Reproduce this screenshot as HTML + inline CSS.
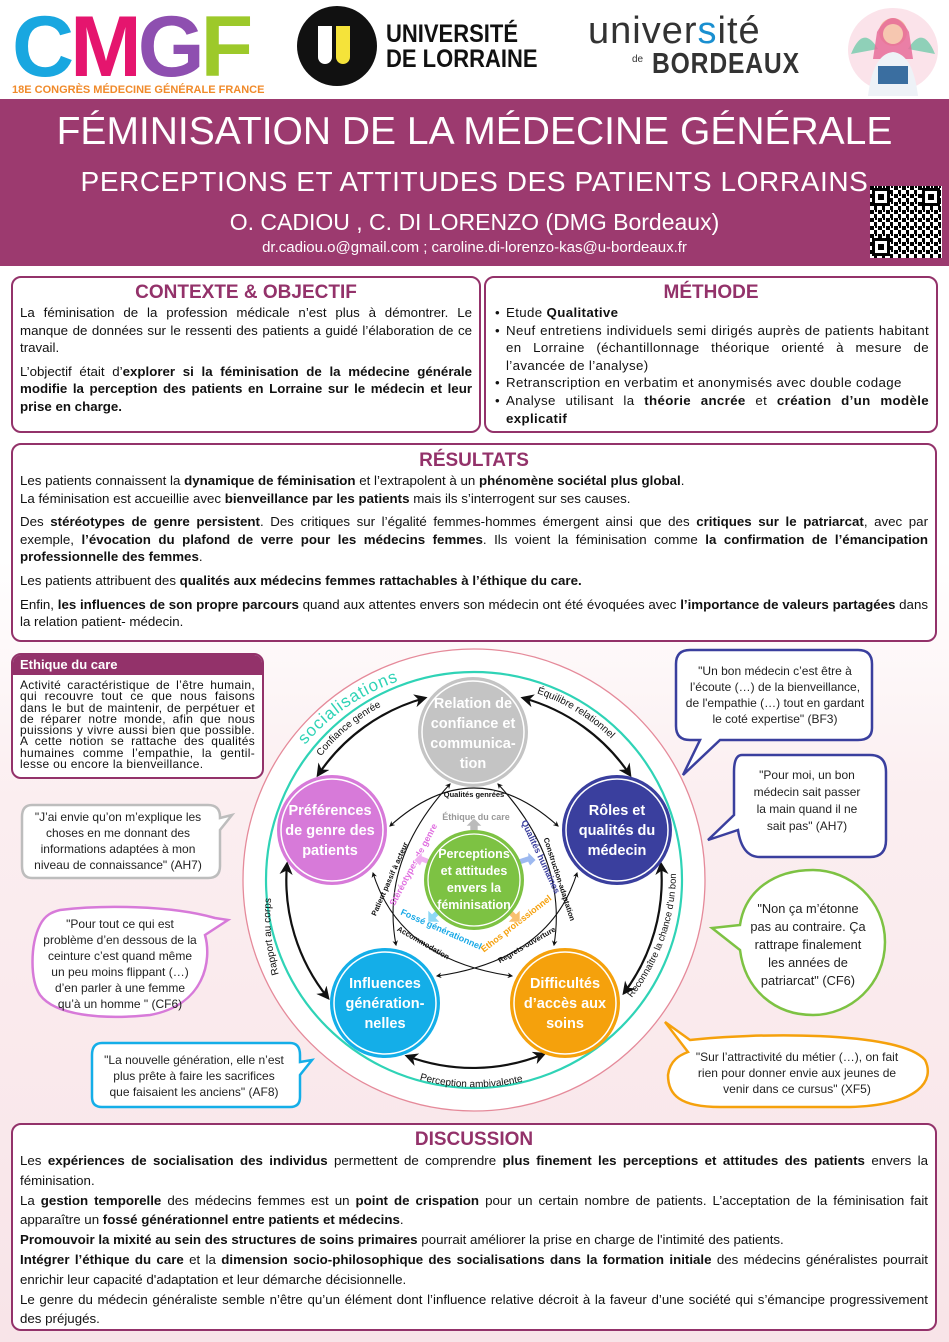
<!DOCTYPE html>
<html><head><meta charset="utf-8"><style>
*{margin:0;padding:0;box-sizing:border-box}
body{width:949px;height:1342px;position:relative;overflow:hidden;font-family:"Liberation Sans",sans-serif;color:#111;background:linear-gradient(#ffffff 0px,#fff 560px,#fbeef0 800px,#f8e4e8 1342px)}
.abs{position:absolute}
.box{position:absolute;background:#fff;border:2.5px solid #93326a;border-radius:10px}
.h{color:#93326a;font-weight:bold;font-size:19px;text-align:center;line-height:22px}
.t{font-size:13.3px;line-height:17.6px;text-align:justify}
.t p{margin-bottom:6px}
ul{list-style:none}
li{padding-left:13px;position:relative}
li:before{content:"•";position:absolute;left:2px}
</style></head><body>
<div class="abs" style="left:12px;top:4px;font-size:86px;font-weight:bold;letter-spacing:-4px;line-height:86px"><span style="color:#19a7e0">C</span><span style="color:#e5156e">M</span><span style="color:#8e4fb0">G</span><span style="color:#9dc92a">F</span></div>
<div class="abs" style="left:12px;top:84px;font-size:11px;font-weight:bold;color:#f08a2a">18E CONGRÈS MÉDECINE GÉNÉRALE FRANCE</div>
<div class="abs" style="left:297px;top:6px;width:80px;height:80px;border-radius:50%;background:#111"></div>
<div class="abs" style="left:318px;top:26px;width:14px;height:38px;border-radius:0 0 8px 8px;background:#fff"></div>
<div class="abs" style="left:336px;top:26px;width:14px;height:38px;border-radius:0 0 8px 8px;background:#f5e33a"></div>
<div class="abs" style="left:386px;top:22px;font-size:25px;font-weight:bold;line-height:25px;transform:scaleX(.88);transform-origin:left">UNIVERSITÉ<br>DE LORRAINE</div>
<div class="abs" style="left:588px;top:10px;font-size:38px;color:#333;letter-spacing:1px">univer<span style="color:#1a8fd0">s</span>ité</div>
<div class="abs" style="left:632px;top:54px;font-size:10px;color:#333">de</div>
<div class="abs" style="left:652px;top:48px;font-size:29px;font-weight:bold;color:#333;letter-spacing:1px;transform:scaleX(.85);transform-origin:left">BORDEAUX</div>
<svg class="abs" style="left:843px;top:4px" width="100" height="92"><ellipse cx="50" cy="46" rx="45" ry="42" fill="#fbe3ea"/><path d="M8 50 Q20 20 35 45 Z" fill="#8fd0b8"/><path d="M92 50 Q80 20 65 45 Z" fill="#8fd0b8"/><circle cx="50" cy="28" r="14" fill="#f3b89c"/><path d="M34 28 Q50 0 66 28 L70 55 L30 55 Z" fill="#e66d9a" opacity=".85"/><circle cx="50" cy="30" r="10" fill="#f6c7b0"/><path d="M25 92 Q30 50 50 48 Q70 50 75 92 Z" fill="#eef2f7"/><rect x="35" y="62" width="30" height="18" fill="#3a6ea0"/></svg>
<div class="abs" style="left:0;top:99px;width:949px;height:167px;background:#9c3a6f"></div>
<div class="abs" style="left:0;top:107px;width:949px;text-align:center;color:#fff;font-size:39px;line-height:50px">FÉMINISATION DE LA MÉDECINE GÉNÉRALE</div>
<div class="abs" style="left:0;top:164px;width:949px;text-align:center;color:#fff;font-size:28px;line-height:36px;letter-spacing:.6px">PERCEPTIONS ET ATTITUDES DES PATIENTS LORRAINS</div>
<div class="abs" style="left:0;top:207px;width:949px;text-align:center;color:#fff;font-size:23px;line-height:30px">O. CADIOU , C. DI LORENZO (DMG Bordeaux)</div>
<div class="abs" style="left:0;top:238px;width:949px;text-align:center;color:#fff;font-size:15px;line-height:20px">dr.cadiou.o@gmail.com ; caroline.di-lorenzo-kas@u-bordeaux.fr</div>
<svg class="abs" style="left:870px;top:186px" width="72" height="72"><defs><pattern id="q" width="8" height="8" patternUnits="userSpaceOnUse"><rect width="8" height="8" fill="#fff"/><rect x="0" y="0" width="4" height="4" fill="#000"/><rect x="4" y="4" width="3" height="4" fill="#000"/><rect x="5" y="0" width="2" height="2" fill="#000"/></pattern></defs><rect width="72" height="72" fill="url(#q)"/><g fill="#000"><rect x="2" y="2" width="18" height="18"/><rect x="52" y="2" width="18" height="18"/><rect x="2" y="52" width="18" height="18"/></g><g fill="#fff"><rect x="5" y="5" width="12" height="12"/><rect x="55" y="5" width="12" height="12"/><rect x="5" y="55" width="12" height="12"/></g><g fill="#000"><rect x="8" y="8" width="6" height="6"/><rect x="58" y="8" width="6" height="6"/><rect x="8" y="58" width="6" height="6"/></g></svg>

<div class="box" style="left:11px;top:276px;width:470px;height:157px;padding:4px 7px">
<div class="h">CONTEXTE &amp; OBJECTIF</div>
<div class="t"><p>La féminisation de la profession médicale n’est plus à démontrer. Le manque de données sur le ressenti des patients a guidé l’élaboration de ce travail.</p><p>L’objectif était d’<b>explorer si la féminisation de la médecine générale modifie la perception des patients en Lorraine sur le médecin et leur prise en charge.</b></p></div></div>
<div class="box" style="left:484px;top:276px;width:454px;height:157px;padding:4px 7px">
<div class="h">MÉTHODE</div>
<ul class="t" style="letter-spacing:.35px"><li>Etude <b>Qualitative</b></li><li>Neuf entretiens individuels semi dirigés auprès de patients habitant en Lorraine (échantillonnage théorique orienté à mesure de l’avancée de l’analyse)</li><li>Retranscription en verbatim et anonymisés avec double codage</li><li>Analyse utilisant la <b>théorie ancrée</b> et <b>création d’un modèle explicatif</b></li></ul></div>
<div class="box" style="left:11px;top:443px;width:926px;height:199px;padding:5px 7px">
<div class="h">RÉSULTATS</div>
<div class="t"><p>Les patients connaissent la <b>dynamique de féminisation</b> et l’extrapolent à un <b>phénomène sociétal plus global</b>.<br>La féminisation est accueillie avec <b>bienveillance par les patients</b> mais ils s’interrogent sur ses causes.</p>
<p>Des <b>stéréotypes de genre persistent</b>. Des critiques sur l’égalité femmes-hommes émergent ainsi que des <b>critiques sur le patriarcat</b>, avec par exemple, <b>l’évocation du plafond de verre pour les médecins femmes</b>. Ils voient la féminisation comme <b>la confirmation de l’émancipation professionnelle des femmes</b>.</p>
<p>Les patients attribuent des <b>qualités aux médecins femmes rattachables à l’éthique du care.</b></p>
<p>Enfin, <b>les influences de son propre parcours</b> quand aux attentes envers son médecin ont été évoquées avec <b>l’importance de valeurs partagées</b> dans la relation patient- médecin.</p></div></div>
<div class="box" style="left:11px;top:653px;width:253px;height:126px;overflow:hidden">
<div style="background:#93326a;color:#fff;font-weight:bold;font-size:13px;padding:2px 7px;height:20px">Ethique du care</div>
<div style="font-size:12px;line-height:11.3px;letter-spacing:.3px;text-align:justify;padding:5px 7px 0 7px">Activité caractéristique de l’être humain, qui recouvre tout ce que nous faisons dans le but de maintenir, de perpétuer et de réparer notre monde, afin que nous puissions y vivre aussi bien que possible. A cette notion se rattache des qualités humaines comme l’empathie, la gentil-lesse ou encore la bienveillance.</div></div>

<svg class="abs" style="left:0;top:0" width="949" height="1342" font-family="Liberation Sans, sans-serif">
<defs><marker id="ar" viewBox="0 0 10 10" refX="8" refY="5" markerWidth="5" markerHeight="5" orient="auto-start-reverse"><path d="M0 0 L10 5 L0 10 L3 5Z" fill="#111"/></marker>
<marker id="as" viewBox="0 0 10 10" refX="8" refY="5" markerWidth="6" markerHeight="6" orient="auto-start-reverse"><path d="M0 0 L10 5 L0 10 L3 5Z" fill="#111"/></marker>
<path id="p1" d="M311 770 A196 196 0 0 1 422 690"/>
<path id="p2" d="M526 690 A196 196 0 0 1 637 770"/>
<path id="p3" d="M290 1003 A198 198 0 0 1 277 866"/>
<path id="p4b" d="M630 1000 A202 202 0 0 0 676 870"/>
<path id="p5" d="M397 1072 A205 205 0 0 0 552 1072"/>
<path id="p6" d="M305 745 A213 213 0 0 1 420 675"/>
</defs>
<circle cx="474" cy="880" r="231" fill="#fff" stroke="#e58a9a" stroke-width="1.3"/>
<circle cx="474" cy="880" r="208" fill="none" stroke="#2fd3b6" stroke-width="2.2"/>
<text font-size="17" fill="#2fd3b6" letter-spacing="1"><textPath href="#p6">socialisations</textPath></text>
<g fill="none" stroke="#111" stroke-width="2.2">
<path d="M318 775 A188 188 0 0 1 425 698" marker-start="url(#as)" marker-end="url(#as)"/>
<path d="M523 698 A188 188 0 0 1 630 775" marker-start="url(#as)" marker-end="url(#as)"/>
<path d="M661 864 A188 188 0 0 1 624 993" marker-start="url(#as)" marker-end="url(#as)"/>
<path d="M544 1054 A188 188 0 0 1 407 1056" marker-start="url(#as)" marker-end="url(#as)"/>
<path d="M328 998 A188 188 0 0 1 287 864" marker-start="url(#as)" marker-end="url(#as)"/>
</g>
<g font-size="10" fill="#111">
<text><textPath href="#p1" startOffset="12%">Confiance genrée</textPath></text>
<text><textPath href="#p2" startOffset="8%">Équilibre relationnel</textPath></text>
<text><textPath href="#p3" startOffset="22%">Rapport au corps</textPath></text>
<text font-size="9.5"><textPath href="#p4b" startOffset="2%">Reconnaître la chance d’un bon suivi</textPath></text>
<text><textPath href="#p5" startOffset="15%">Perception ambivalente</textPath></text>
</g>
<g fill="none" stroke="#111" stroke-width="1.1">
<path d="M390 826 Q474 750 558 826" marker-start="url(#ar)" marker-end="url(#ar)"/>
<path d="M450 784 Q380 860 396 945" marker-start="url(#ar)" marker-end="url(#ar)"/>
<path d="M498 784 Q568 860 554 945" marker-start="url(#ar)" marker-end="url(#ar)"/>
<path d="M373 873 Q400 960 512 976" marker-start="url(#ar)" marker-end="url(#ar)"/>
<path d="M577 873 Q550 960 437 976" marker-start="url(#ar)" marker-end="url(#ar)"/>
</g>
<g font-size="7.5" font-weight="bold" fill="#111">
<text x="474" y="797" text-anchor="middle">Qualités genrées</text>
<text transform="translate(392 880) rotate(-66)" text-anchor="middle">Patient passif à acteur</text>
<text transform="translate(557 880) rotate(72)" text-anchor="middle">Construction-adaptation</text>
<text transform="translate(422 945) rotate(30)" text-anchor="middle">Accommodation</text>
<text transform="translate(528 947) rotate(-30)" text-anchor="middle">Regrets-ouverture</text>
</g>
<g font-size="9" font-weight="bold">
<text x="476" y="820" text-anchor="middle" fill="#999">Éthique du care</text>
<text transform="translate(416 866) rotate(-62)" text-anchor="middle" fill="#e06fe0">Stéréotypes de genre</text>
<text transform="translate(538 858) rotate(65)" text-anchor="middle" fill="#3b3f9e">Qualités humaines</text>
<text transform="translate(440 932) rotate(24)" text-anchor="middle" fill="#1aa9e6">Fossé générationnel</text>
<text transform="translate(518 926) rotate(-38)" text-anchor="middle" fill="#f5a00c">Ethos professionnel</text>
</g>
<g stroke="#fff" stroke-width=".6">
<path d="M470 840 L470 826 L466 826 L474 818 L482 826 L478 826 L478 840Z" fill="#bbb"/>
<path d="M432 860 L422 856 L422 852 L414 860 L420 866 L422 862 L432 866Z" fill="#f0b0f0"/>
<path d="M516 860 L528 856 L528 852 L536 860 L530 866 L528 862 L516 866Z" fill="#9db9f0"/>
<path d="M440 906 L432 914 L428 910 L428 922 L440 922 L436 918 L444 910Z" fill="#8fd8f5"/>
<path d="M508 906 L516 914 L520 910 L520 922 L508 922 L512 918 L504 910Z" fill="#f8c070"/>
</g>
<g font-size="14.5" font-weight="bold" fill="#fff" text-anchor="middle">
<circle cx="473" cy="732" r="55" fill="#c4c4c4"/><circle cx="473" cy="732" r="51" fill="none" stroke="#fff" stroke-width="1.5"/>
<text x="473" y="708">Relation de</text><text x="473" y="728">confiance et</text><text x="473" y="748">communica-</text><text x="473" y="768">tion</text>
<circle cx="332" cy="830" r="55" fill="#d77ad9"/><circle cx="332" cy="830" r="51" fill="none" stroke="#fff" stroke-width="1.5"/>
<text x="330" y="815">Préférences</text><text x="330" y="835">de genre des</text><text x="330" y="855">patients</text>
<circle cx="617" cy="830" r="55" fill="#3a3f9e"/><circle cx="617" cy="830" r="51" fill="none" stroke="#fff" stroke-width="1.5"/>
<text x="617" y="815">Rôles et</text><text x="617" y="835">qualités du</text><text x="617" y="855">médecin</text>
<circle cx="385" cy="1003" r="55" fill="#14aee8"/><circle cx="385" cy="1003" r="51" fill="none" stroke="#fff" stroke-width="1.5"/>
<text x="385" y="988">Influences</text><text x="385" y="1008">génération-</text><text x="385" y="1028">nelles</text>
<circle cx="565" cy="1003" r="55" fill="#f5a10c"/><circle cx="565" cy="1003" r="51" fill="none" stroke="#fff" stroke-width="1.5"/>
<text x="565" y="988">Difficultés</text><text x="565" y="1008">d’accès aux</text><text x="565" y="1028">soins</text>
<circle cx="474" cy="880" r="50" fill="#7dc243"/><circle cx="474" cy="880" r="46" fill="none" stroke="#fff" stroke-width="1.3"/>
<g font-size="12.5"><text x="474" y="858">Perceptions</text><text x="474" y="875">et attitudes</text><text x="474" y="892">envers la</text><text x="474" y="909">féminisation</text></g>
</g>
<g fill="#fff" stroke-width="2.5">
<path d="M690 650 H858 Q872 650 872 664 V728 Q872 740 858 740 H720 L683 775 L700 740 H690 Q676 740 676 726 V664 Q676 650 690 650Z" stroke="#3a3f9e"/>
<path d="M742 755 H870 Q886 755 886 772 V840 Q886 857 870 857 H760 Q742 857 738 830 L708 840 L734 815 V772 Q734 755 742 755Z" stroke="#3a3f9e"/>
<path d="M813 870 C850 870 885 900 885 942 C885 985 850 1015 813 1015 C775 1015 745 990 740 950 L712 928 L740 925 C745 890 775 870 813 870Z" stroke="#7dc243"/>
<path d="M690 1040 C750 1033 900 1030 925 1060 C935 1080 920 1105 850 1107 H720 C680 1107 668 1095 668 1075 C670 1060 680 1055 688 1052 L665 1022Z" stroke="#f5a10c"/>
<path d="M32 805 H208 Q220 805 220 817 V818 L232 815 L220 830 V866 Q220 878 208 878 H32 Q22 878 22 866 V817 Q22 805 32 805Z" stroke="#bdbdbd"/>
<path d="M60 910 C100 905 170 905 215 918 L228 920 L205 935 C212 960 205 1005 150 1015 C100 1020 55 1015 40 995 C30 980 30 945 40 925 C45 915 52 912 60 910Z" stroke="#d77ad9"/>
<path d="M102 1043 H290 Q300 1043 300 1055 V1062 L312 1060 L300 1075 V1097 Q300 1107 290 1107 H102 Q92 1107 92 1097 V1055 Q92 1043 102 1043Z" stroke="#14aee8"/>
</g>
<g font-size="12" fill="#222" text-anchor="middle">
<text x="775" y="675">"Un bon médecin c’est être à</text><text x="775" y="691">l’écoute (…) de la bienveillance,</text><text x="775" y="707">de l'empathie (…) tout en gardant</text><text x="775" y="723">le coté expertise" (BF3)</text>
<text x="807" y="779">"Pour moi, un bon</text><text x="807" y="796">médecin sait passer</text><text x="807" y="813">la main quand il ne</text><text x="807" y="830">sait pas" (AH7)</text>
<g font-size="12.8"><text x="808" y="913">"Non ça m’étonne</text><text x="808" y="931">pas au contraire. Ça</text><text x="808" y="949">rattrape finalement</text><text x="808" y="967">les années de</text><text x="808" y="985">patriarcat" (CF6)</text></g>
<text x="797" y="1061">"Sur l’attractivité du métier (…), on fait</text><text x="797" y="1077">rien pour donner envie aux jeunes de</text><text x="797" y="1093">venir dans ce cursus" (XF5)</text>
<text x="118" y="821">"J’ai envie qu’on m’explique les</text><text x="118" y="837">choses en me donnant des</text><text x="118" y="853">informations adaptées à mon</text><text x="118" y="869">niveau de connaissance" (AH7)</text>
<text x="120" y="928">"Pour tout ce qui est</text><text x="120" y="944">problème d’en dessous de la</text><text x="120" y="960">ceinture c’est quand même</text><text x="120" y="976">un peu moins flippant (…)</text><text x="120" y="992">d’en parler à une femme</text><text x="120" y="1008">qu’à un homme " (CF6)</text>
<text x="194" y="1064">"La nouvelle génération, elle n’est</text><text x="194" y="1080">plus prête à faire les sacrifices</text><text x="194" y="1096">que faisaient les anciens" (AF8)</text>
</g>
</svg>

<div class="box" style="left:11px;top:1123px;width:926px;height:208px;padding:4px 7px">
<div class="h">DISCUSSION</div>
<div class="t" style="line-height:19.8px">Les <b>expériences de socialisation des individus</b> permettent de comprendre <b>plus finement les perceptions et attitudes des patients</b> envers la féminisation.<br>La <b>gestion temporelle</b> des médecins femmes est un <b>point de crispation</b> pour un certain nombre de patients. L’acceptation de la féminisation fait apparaître un <b>fossé générationnel entre patients et médecins</b>.<br><b>Promouvoir la mixité au sein des structures de soins primaires</b> pourrait améliorer la prise en charge de l'intimité des patients.<br><b>Intégrer l’éthique du care</b> et la <b>dimension socio-philosophique des socialisations dans la formation initiale</b> des médecins généralistes pourrait enrichir leur capacité d'adaptation et leur démarche décisionnelle.<br>Le genre du médecin généraliste semble n’être qu’un élément dont l’influence relative décroit à la faveur d’une société qui s’émancipe progressivement des préjugés.</div></div>
</body></html>
